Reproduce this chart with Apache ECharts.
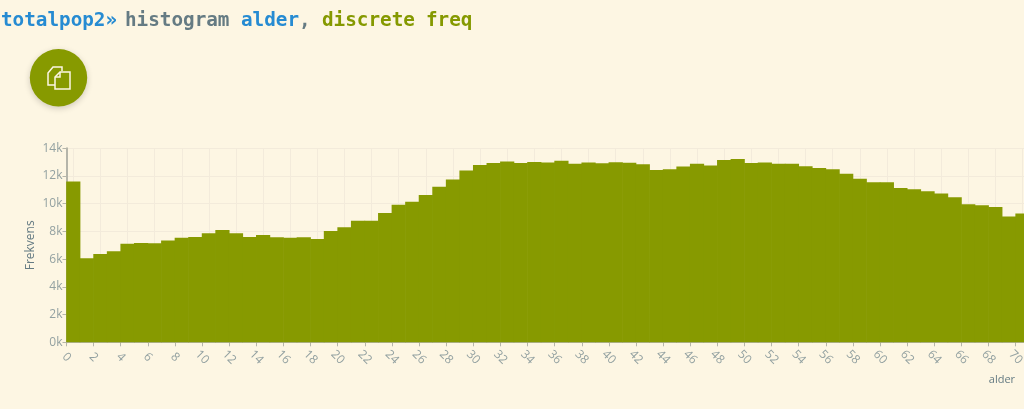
<!DOCTYPE html>
<html>
<head>
<meta charset="utf-8">
<style>html,body{margin:0;padding:0;background:#fdf6e3;overflow:hidden;width:1024px;height:409px}#c{width:1072px;height:409px}</style>
<script src="https://cdn.jsdelivr.net/npm/echarts@6/dist/echarts.min.js"></script>
</head>
<body>
<div id="c"></div>
<script>
const ages = [0,1,2,3,4,5,6,7,8,9,10,11,12,13,14,15,16,17,18,19,20,21,22,23,24,25,26,27,28,29,30,31,32,33,34,35,36,37,38,39,40,41,42,43,44,45,46,47,48,49,50,51,52,53,54,55,56,57,58,59,60,61,62,63,64,65,66,67,68,69,70];
const freq = [11600,6060,6370,6570,7120,7170,7140,7340,7550,7600,7870,8100,7870,7600,7750,7580,7550,7580,7460,8030,8300,8780,8780,9330,9930,10150,10630,11230,11740,12390,12800,12940,13040,12940,13010,12970,13110,12890,12970,12920,12990,12950,12850,12440,12490,12680,12890,12750,13160,13230,12940,12970,12890,12890,12700,12580,12490,12170,11810,11550,11550,11140,11040,10900,10730,10460,9960,9890,9770,9070,9290];
const xName = 'alder';
const yName = 'Frekvens';
const cmdParts = [
  {text:'totalpop2»', x:1, color:'#268bd2'},
  {text:'histogram', x:125, color:'#657b83'},
  {text:'alder', x:241, color:'#268bd2'},
  {text:',', x:299, color:'#657b83'},
  {text:'discrete', x:322, color:'#859900'},
  {text:'freq', x:426, color:'#859900'}
];
const chart = echarts.init(document.getElementById('c'), null, {renderer:'canvas'});
const labelColor = '#93a1a1';
const gridColor = '#f3ebdb';
const iconStyle = {fill:'none', stroke:'#fdf6e3', lineWidth:1.5};
chart.setOption({
  backgroundColor:'#fdf6e3',
  animation:false,
  grid:[
    {left:66.5, top:148.3, height:194, right:29.2},
    {left:73.3, top:148.3, height:194, right:22.4}
  ],
  xAxis:[
    {type:'value', gridIndex:0, min:0, max:72, interval:2,
     name:xName, nameLocation:'end', nameGap:-54, nameMoveOverlap:false,
     nameTextStyle:{color:'#657b83', fontFamily:'Open Sans', fontSize:11, verticalAlign:'top', padding:[32,0,0,0]},
     axisLine:{show:true, lineStyle:{color:'#b5b5aa', width:1}},
     axisTick:{show:true, length:4, lineStyle:{color:'#b5b5aa'}},
     axisLabel:{color:labelColor, fontFamily:'Open Sans', fontSize:12, rotate:-45, align:'center', verticalAlign:'middle', margin:15, showMaxLabel:false},
     splitLine:{show:false}},
    {type:'value', gridIndex:1, min:0, max:72, interval:2,
     axisLine:{show:false}, axisTick:{show:false}, axisLabel:{show:false},
     splitLine:{show:true, lineStyle:{color:gridColor, width:1}}}
  ],
  yAxis:[
    {type:'value', gridIndex:0, min:0, max:14000, interval:2000,
     name:yName, nameLocation:'middle', nameGap:30, nameRotate:90, nameMoveOverlap:false,
     nameTextStyle:{color:'#657b83', fontFamily:'Open Sans', fontSize:12},
     axisLine:{show:true, lineStyle:{color:'#b5b5aa', width:2}},
     axisTick:{show:true, length:4, lineStyle:{color:'#b5b5aa'}},
     axisLabel:{color:labelColor, fontFamily:'Open Sans', fontSize:12, margin:4, formatter:v=>(v/1000)+'k'},
     splitLine:{show:true, lineStyle:{color:gridColor, width:1}}},
    {type:'value', gridIndex:1, min:0, max:14000, show:false, splitLine:{show:false}}
  ],
  series:[{
    type:'bar', xAxisIndex:0, yAxisIndex:0,
    data:ages.map((a,i)=>[a+0.5, freq[i]]),
    barWidth:14.2,
    itemStyle:{color:'#879a00'},
    silent:true
  }],
  graphic:[
    ...cmdParts.map(p=>({type:'text', x:p.x, y:20.5, style:{text:p.text, fill:p.color, font:'bold 19.3px "DejaVu Sans Mono"', verticalAlign:'middle', align:'left'}})),
    {type:'circle', shape:{cx:58.5, cy:77.7, r:28.7}, style:{fill:'#879a00', shadowBlur:6, shadowColor:'rgba(0,0,0,0.18)', shadowOffsetY:2}},
    {type:'polyline', shape:{points:[[62,71],[62,67],[53,67],[48,73],[48,85],[55,85]]}, style:iconStyle},
    {type:'polygon', shape:{points:[[60,72],[70,72],[70,89],[55,89],[55,77]]}, style:iconStyle},
    {type:'polyline', shape:{points:[[60,72],[60,77],[55,77]]}, style:iconStyle}
  ]
});
</script>
</body>
</html>
